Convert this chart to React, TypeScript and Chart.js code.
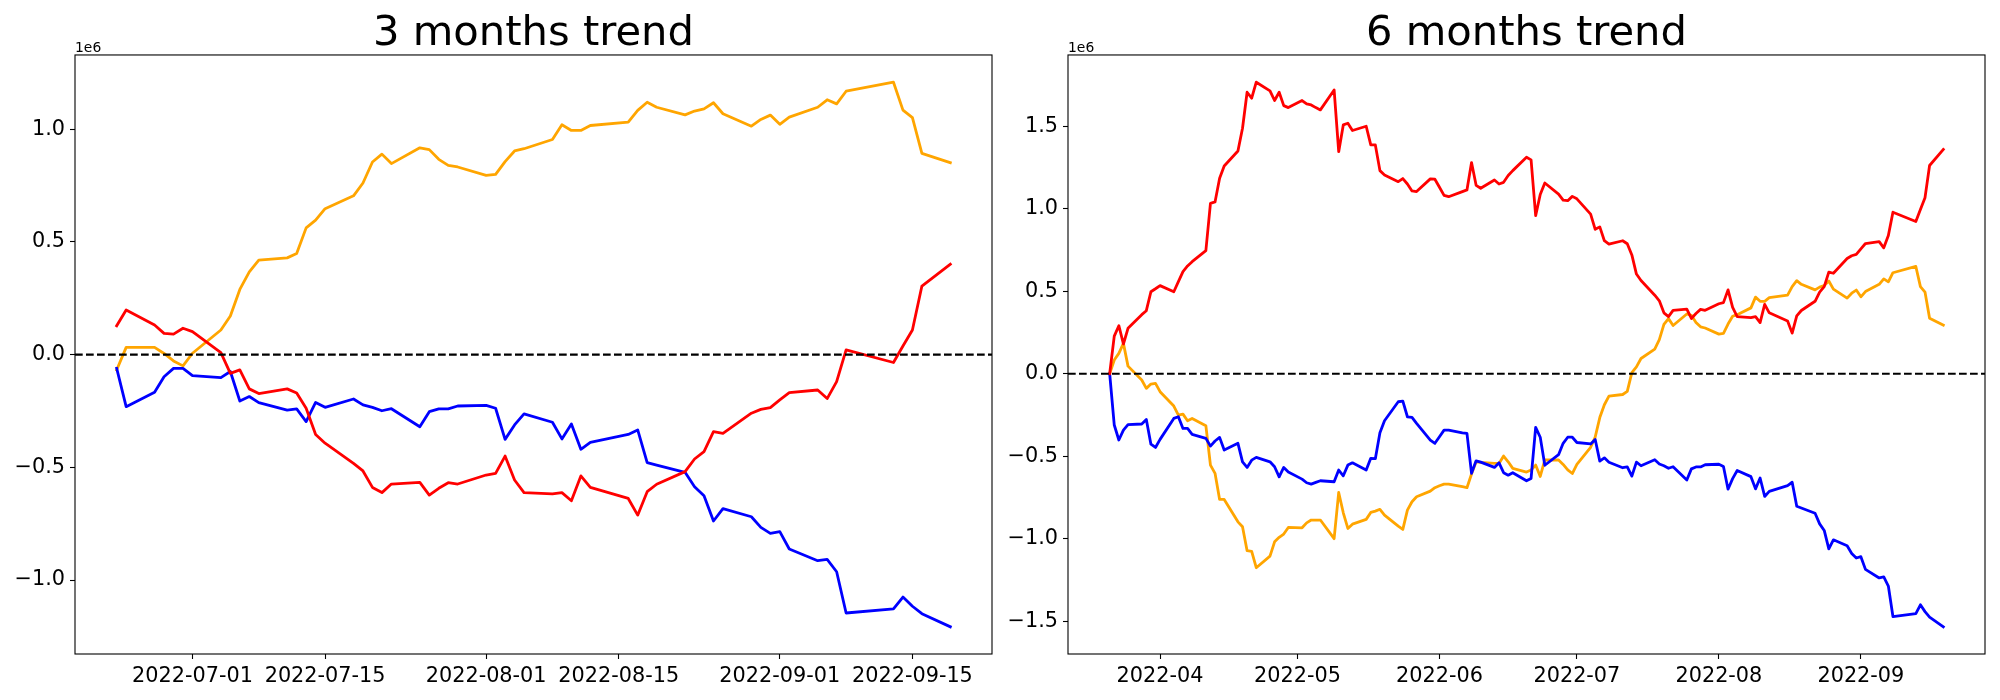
import React, { useEffect, useRef } from 'react';
import { Chart, registerables } from 'chart.js';

Chart.register(...registerables);

// ---------- 3 months panel data (values in units of 1e6) ----------
const DATES_3M = [
  '2022-06-23', '2022-06-24', '2022-06-27', '2022-06-28', '2022-06-29', '2022-06-30',
  '2022-07-01', '2022-07-04', '2022-07-05', '2022-07-06', '2022-07-07', '2022-07-08',
  '2022-07-11', '2022-07-12', '2022-07-13', '2022-07-14', '2022-07-15', '2022-07-18',
  '2022-07-19', '2022-07-20', '2022-07-21', '2022-07-22', '2022-07-25', '2022-07-26',
  '2022-07-27', '2022-07-28', '2022-07-29', '2022-08-01', '2022-08-02', '2022-08-03',
  '2022-08-04', '2022-08-05', '2022-08-08', '2022-08-09', '2022-08-10', '2022-08-11',
  '2022-08-12', '2022-08-16', '2022-08-17', '2022-08-18', '2022-08-19', '2022-08-22',
  '2022-08-23', '2022-08-24', '2022-08-25', '2022-08-26', '2022-08-29', '2022-08-30',
  '2022-08-31', '2022-09-01', '2022-09-02', '2022-09-05', '2022-09-06', '2022-09-07',
  '2022-09-08', '2022-09-13', '2022-09-14', '2022-09-15', '2022-09-16', '2022-09-19',
];

const RED_3M = [
  0.128, 0.198, 0.131, 0.094, 0.091, 0.117,
  0.102, 0.009, -0.083, -0.068, -0.152, -0.173,
  -0.152, -0.170, -0.238, -0.354, -0.393, -0.482,
  -0.516, -0.589, -0.612, -0.574, -0.567, -0.623,
  -0.593, -0.568, -0.574, -0.534, -0.527, -0.450,
  -0.556, -0.612, -0.618, -0.612, -0.648, -0.538,
  -0.589, -0.638, -0.712, -0.608, -0.575, -0.519,
  -0.463, -0.430, -0.342, -0.349, -0.260, -0.243,
  -0.235, -0.201, -0.169, -0.157, -0.195, -0.120,
  0.021, -0.035, 0.038, 0.109, 0.304, 0.401,
];

const BLUE_3M = [
  -0.061, -0.231, -0.167, -0.098, -0.061, -0.061,
  -0.093, -0.102, -0.075, -0.206, -0.186, -0.213,
  -0.246, -0.241, -0.297, -0.212, -0.234, -0.197,
  -0.223, -0.234, -0.249, -0.240, -0.320, -0.253,
  -0.241, -0.241, -0.228, -0.225, -0.238, -0.376,
  -0.312, -0.263, -0.300, -0.374, -0.308, -0.420,
  -0.389, -0.354, -0.334, -0.479, -0.490, -0.522,
  -0.586, -0.626, -0.738, -0.683, -0.719, -0.766,
  -0.793, -0.785, -0.862, -0.914, -0.908, -0.963,
  -1.146, -1.128, -1.075, -1.116, -1.149, -1.207,
];

const ORANGE_3M = [
  -0.068, 0.032, 0.032, 0.005, -0.028, -0.050,
  0.006, 0.109, 0.171, 0.289, 0.367, 0.419,
  0.429, 0.448, 0.562, 0.596, 0.647, 0.704,
  0.761, 0.854, 0.889, 0.847, 0.917, 0.909,
  0.866, 0.839, 0.832, 0.795, 0.799, 0.856,
  0.903, 0.913, 0.954, 1.019, 0.994, 0.994,
  1.016, 1.031, 1.083, 1.119, 1.097, 1.063,
  1.080, 1.090, 1.117, 1.068, 1.013, 1.043,
  1.062, 1.021, 1.053, 1.097, 1.130, 1.112,
  1.168, 1.208, 1.084, 1.051, 0.892, 0.851,
];

// ---------- 6 months panel data (values in units of 1e6) ----------
const DATES_6M = [
  '2022-03-21', '2022-03-22', '2022-03-23', '2022-03-24', '2022-03-25', '2022-03-28',
  '2022-03-29', '2022-03-30', '2022-03-31', '2022-04-01', '2022-04-04', '2022-04-05',
  '2022-04-06', '2022-04-07', '2022-04-08', '2022-04-11', '2022-04-12', '2022-04-13',
  '2022-04-14', '2022-04-15', '2022-04-18', '2022-04-19', '2022-04-20', '2022-04-21',
  '2022-04-22', '2022-04-25', '2022-04-26', '2022-04-27', '2022-04-28', '2022-04-29',
  '2022-05-02', '2022-05-03', '2022-05-04', '2022-05-05', '2022-05-06', '2022-05-09',
  '2022-05-10', '2022-05-11', '2022-05-12', '2022-05-13', '2022-05-16', '2022-05-17',
  '2022-05-18', '2022-05-19', '2022-05-20', '2022-05-23', '2022-05-24', '2022-05-25',
  '2022-05-26', '2022-05-27', '2022-05-30', '2022-05-31', '2022-06-01', '2022-06-02',
  '2022-06-03', '2022-06-06', '2022-06-07', '2022-06-08', '2022-06-09', '2022-06-10',
  '2022-06-13', '2022-06-14', '2022-06-15', '2022-06-16', '2022-06-17', '2022-06-20',
  '2022-06-21', '2022-06-22',
  '2022-06-23', '2022-06-24', '2022-06-27', '2022-06-28', '2022-06-29', '2022-06-30',
  '2022-07-01', '2022-07-04', '2022-07-05', '2022-07-06', '2022-07-07', '2022-07-08',
  '2022-07-11', '2022-07-12', '2022-07-13', '2022-07-14', '2022-07-15', '2022-07-18',
  '2022-07-19', '2022-07-20', '2022-07-21', '2022-07-22', '2022-07-25', '2022-07-26',
  '2022-07-27', '2022-07-28', '2022-07-29', '2022-08-01', '2022-08-02', '2022-08-03',
  '2022-08-04', '2022-08-05', '2022-08-08', '2022-08-09', '2022-08-10', '2022-08-11',
  '2022-08-12', '2022-08-16', '2022-08-17', '2022-08-18', '2022-08-19', '2022-08-22',
  '2022-08-23', '2022-08-24', '2022-08-25', '2022-08-26', '2022-08-29', '2022-08-30',
  '2022-08-31', '2022-09-01', '2022-09-02', '2022-09-05', '2022-09-06', '2022-09-07',
  '2022-09-08', '2022-09-13', '2022-09-14', '2022-09-15', '2022-09-16', '2022-09-19',
];

const RED_6M = [
  0.000, 0.228, 0.291, 0.180, 0.275, 0.358,
  0.382, 0.497, 0.515, 0.534, 0.497, 0.558,
  0.619, 0.653, 0.679, 0.746, 1.033, 1.041,
  1.185, 1.259, 1.350, 1.488, 1.706, 1.670,
  1.767, 1.714, 1.656, 1.706, 1.625, 1.613,
  1.656, 1.635, 1.629, 1.613, 1.599, 1.720,
  1.346, 1.508, 1.518, 1.474, 1.500, 1.387,
  1.387, 1.231, 1.205, 1.164, 1.183, 1.150,
  1.108, 1.104, 1.181, 1.179, 1.130, 1.081,
  1.073, 1.104, 1.114, 1.280, 1.142, 1.124,
  1.174, 1.150, 1.160, 1.201, 1.231, 1.312,
  1.296, 0.958,
  1.086, 1.156, 1.089, 1.052, 1.049, 1.075,
  1.060, 0.967, 0.875, 0.890, 0.806, 0.785,
  0.806, 0.788, 0.720, 0.604, 0.565, 0.476,
  0.442, 0.369, 0.346, 0.384, 0.391, 0.335,
  0.365, 0.390, 0.384, 0.424, 0.431, 0.508,
  0.402, 0.346, 0.340, 0.346, 0.310, 0.420,
  0.369, 0.320, 0.246, 0.350, 0.383, 0.439,
  0.495, 0.528, 0.616, 0.609, 0.698, 0.715,
  0.723, 0.757, 0.789, 0.801, 0.763, 0.838,
  0.979, 0.923, 0.996, 1.067, 1.262, 1.359,
];

const BLUE_6M = [
  0.000, -0.311, -0.402, -0.342, -0.309, -0.305,
  -0.277, -0.427, -0.447, -0.398, -0.271, -0.261,
  -0.332, -0.332, -0.368, -0.392, -0.439, -0.408,
  -0.386, -0.463, -0.422, -0.534, -0.568, -0.524,
  -0.507, -0.534, -0.564, -0.625, -0.568, -0.596,
  -0.639, -0.661, -0.669, -0.659, -0.649, -0.655,
  -0.584, -0.619, -0.554, -0.540, -0.584, -0.513,
  -0.515, -0.358, -0.285, -0.170, -0.166, -0.261,
  -0.265, -0.301, -0.402, -0.422, -0.382, -0.342,
  -0.342, -0.358, -0.362, -0.604, -0.528, -0.536,
  -0.568, -0.540, -0.600, -0.615, -0.600, -0.649,
  -0.635, -0.325,
  -0.385, -0.555, -0.491, -0.422, -0.385, -0.385,
  -0.417, -0.426, -0.399, -0.530, -0.510, -0.537,
  -0.570, -0.565, -0.621, -0.536, -0.558, -0.521,
  -0.547, -0.558, -0.573, -0.564, -0.644, -0.577,
  -0.565, -0.565, -0.552, -0.549, -0.562, -0.700,
  -0.636, -0.587, -0.624, -0.698, -0.632, -0.744,
  -0.713, -0.678, -0.658, -0.803, -0.814, -0.846,
  -0.910, -0.950, -1.062, -1.007, -1.043, -1.090,
  -1.117, -1.109, -1.186, -1.238, -1.232, -1.287,
  -1.472, -1.454, -1.401, -1.442, -1.475, -1.534,
];

const ORANGE_6M = [
  0.000, 0.083, 0.123, 0.184, 0.046, -0.038,
  -0.089, -0.063, -0.059, -0.109, -0.196, -0.251,
  -0.245, -0.285, -0.271, -0.315, -0.554, -0.604,
  -0.762, -0.762, -0.898, -0.928, -1.073, -1.077,
  -1.176, -1.106, -1.019, -0.992, -0.972, -0.932,
  -0.934, -0.904, -0.887, -0.887, -0.887, -1.000,
  -0.720, -0.843, -0.938, -0.912, -0.883, -0.841,
  -0.833, -0.822, -0.857, -0.924, -0.944, -0.827,
  -0.776, -0.746, -0.712, -0.691, -0.679, -0.669,
  -0.669, -0.685, -0.691, -0.608, -0.534, -0.538,
  -0.544, -0.544, -0.499, -0.534, -0.574, -0.596,
  -0.584, -0.554,
  -0.623, -0.523, -0.523, -0.550, -0.583, -0.605,
  -0.549, -0.446, -0.384, -0.266, -0.188, -0.136,
  -0.126, -0.107, 0.007, 0.041, 0.092, 0.149,
  0.206, 0.299, 0.334, 0.292, 0.362, 0.354,
  0.311, 0.284, 0.277, 0.240, 0.244, 0.301,
  0.348, 0.358, 0.399, 0.464, 0.439, 0.439,
  0.461, 0.476, 0.528, 0.564, 0.542, 0.508,
  0.525, 0.535, 0.562, 0.513, 0.458, 0.488,
  0.507, 0.466, 0.498, 0.542, 0.575, 0.557,
  0.612, 0.650, 0.528, 0.495, 0.336, 0.295,
];

// ---------- tick labels ----------
const XTICKS_3M = ['2022-07-01', '2022-07-15', '2022-08-01', '2022-08-15', '2022-09-01', '2022-09-15'];
const XTICKS_6M = ['2022-04', '2022-05', '2022-06', '2022-07', '2022-08', '2022-09'];
const YTICKS_3M = [-1.0, -0.5, 0.0, 0.5, 1.0];
const YTICKS_6M = [-1.5, -1.0, -0.5, 0.0, 0.5, 1.0, 1.5];

const FONT = 'DejaVu Sans';

const dayNum = (s: string) => {
  const p = s.split('-').map(Number);
  return Date.UTC(p[0], p[1] - 1, p[2] || 1) / 864e5;
};

const fmtY = (v: number) => {
  const s = Math.abs(v).toFixed(1);
  return v < -1e-9 ? '\u2212' + s : s;
};

const decorPlugin = {
  id: 'decor',
  afterDatasetsDraw(chart: any) {
    const { ctx, chartArea: a } = chart;
    const y = chart.scales.y;
    const y0 = y.getPixelForValue(0);
    ctx.save();
    ctx.strokeStyle = '#000';
    ctx.lineWidth = 2.1;
    ctx.setLineDash([7.7, 3.3]);
    ctx.beginPath();
    ctx.moveTo(a.left, y0);
    ctx.lineTo(a.right, y0);
    ctx.stroke();
    ctx.setLineDash([]);
    ctx.lineWidth = 1.1;
    ctx.strokeRect(a.left, a.top, a.right - a.left, a.bottom - a.top);
    ctx.font = `13.9px "${FONT}"`;
    ctx.fillStyle = '#000';
    ctx.textAlign = 'left';
    ctx.textBaseline = 'alphabetic';
    ctx.fillText('1e6', a.left, a.top - 3);
    ctx.restore();
  },
};

type PanelProps = {
  title: string;
  dates: string[];
  red: number[];
  blue: number[];
  orange: number[];
  xTickDates: string[];
  xTickLabels: string[];
  yTicks: number[];
  yAxisWidth: number;
  padRight: number;
  left: number;
};

function Panel(props: PanelProps) {
  const ref = useRef<HTMLCanvasElement | null>(null);
  useEffect(() => {
    if (!ref.current) return;
    const { dates, red, blue, orange } = props;
    const xs = dates.map(dayNum);
    const x0 = xs[0];
    const x1 = xs[xs.length - 1];
    const xm = (x1 - x0) * 0.05;
    const all = [...red, ...blue, ...orange];
    const lo = Math.min(...all);
    const hi = Math.max(...all);
    const ym = (hi - lo) * 0.05;
    const mk = (vals: number[]) => vals.map((v, i) => ({ x: xs[i], y: v }));
    const ds = (label: string, vals: number[], color: string) => ({
      label,
      data: mk(vals),
      borderColor: color,
      backgroundColor: color,
      borderWidth: 2.8,
      pointRadius: 0,
      tension: 0,
      borderJoinStyle: 'round' as const,
      borderCapStyle: 'square' as const,
      fill: false,
    });
    const xTickVals = props.xTickDates.map(dayNum);
    const chart = new Chart(ref.current, {
      type: 'line',
      data: {
        datasets: [
          ds('red', red, '#ff0000'),
          ds('blue', blue, '#0000ff'),
          ds('orange', orange, '#ffa500'),
        ],
      },
      plugins: [decorPlugin],
      options: {
        animation: false,
        responsive: false,
        devicePixelRatio: 1,
        events: [],
        layout: { padding: { left: 0, right: props.padRight, top: 0, bottom: 0 } },
        plugins: {
          legend: { display: false },
          tooltip: { enabled: false },
          title: {
            display: true,
            text: props.title,
            fullSize: false,
            color: '#000',
            font: { family: FONT, size: 41.67, weight: 'normal', lineHeight: 1 },
            padding: { top: 13.3, bottom: 0 },
          },
        },
        scales: {
          x: {
            type: 'linear',
            min: x0 - xm,
            max: x1 + xm,
            afterFit: (s: any) => { s.height = 46; },
            afterBuildTicks: (s: any) => { s.ticks = xTickVals.map((v) => ({ value: v })); },
            border: { display: false },
            grid: {
              display: true,
              drawOnChartArea: false,
              drawTicks: true,
              tickLength: 5,
              tickWidth: 1.1,
              tickColor: '#000',
            },
            ticks: {
              autoSkip: false,
              maxRotation: 0,
              minRotation: 0,
              padding: 5,
              color: '#000',
              font: { family: FONT, size: 20.8 },
              callback: (v: any) => {
                const i = xTickVals.indexOf(Number(v));
                return i >= 0 ? props.xTickLabels[i] : '';
              },
            },
          },
          y: {
            type: 'linear',
            min: lo - ym,
            max: hi + ym,
            afterFit: (s: any) => { s.width = props.yAxisWidth; },
            afterBuildTicks: (s: any) => { s.ticks = props.yTicks.map((v) => ({ value: v })); },
            border: { display: false },
            grid: {
              display: true,
              drawOnChartArea: false,
              drawTicks: true,
              tickLength: 5,
              tickWidth: 1.1,
              tickColor: '#000',
            },
            ticks: {
              autoSkip: false,
              padding: 5,
              color: '#000',
              font: { family: FONT, size: 20.8 },
              callback: (v: any) => fmtY(Number(v)),
            },
          },
        },
      },
    } as any);
    return () => chart.destroy();
  }, []);
  return (
    <canvas
      ref={ref}
      width={1000}
      height={700}
      style={{ position: 'absolute', left: props.left, top: 0, width: 1000, height: 700 }}
    />
  );
}

export default function App() {
  return (
    <div style={{ position: 'absolute', left: 0, top: 0, width: 2000, height: 700, background: '#fff', overflow: 'hidden' }}>
      <Panel
        title="3 months trend"
        dates={DATES_3M}
        red={RED_3M}
        blue={BLUE_3M}
        orange={ORANGE_3M}
        xTickDates={XTICKS_3M}
        xTickLabels={XTICKS_3M}
        yTicks={YTICKS_3M}
        yAxisWidth={75}
        padRight={8}
        left={0}
      />
      <Panel
        title="6 months trend"
        dates={DATES_6M}
        red={RED_6M}
        blue={BLUE_6M}
        orange={ORANGE_6M}
        xTickDates={XTICKS_6M.map((m) => m + '-01')}
        xTickLabels={XTICKS_6M}
        yTicks={YTICKS_6M}
        yAxisWidth={68}
        padRight={15}
        left={1000}
      />
    </div>
  );
}
